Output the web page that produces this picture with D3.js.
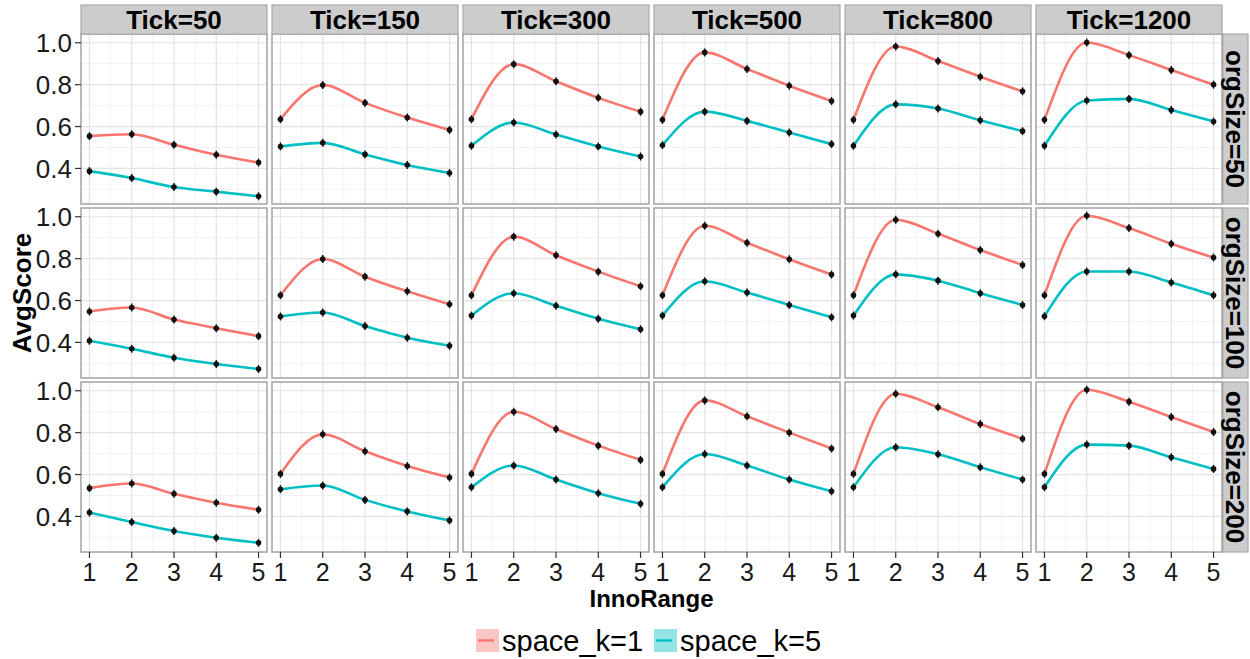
<!DOCTYPE html>
<html>
<head>
<meta charset="utf-8">
<script src="https://cdn.jsdelivr.net/npm/d3@7"></script>
<style>
  html, body { margin: 0; padding: 0; background: #ffffff; }
  svg { display: block; font-family: "Liberation Sans", Arial, sans-serif; }
</style>
</head>
<body>
<svg id="chart" width="1250" height="659"></svg>
<script>
// Facet definitions
const ticks = ["50", "150", "300", "500", "800", "1200"];
const orgSizes = ["50", "100", "200"];
const innoRange = [1, 2, 3, 4, 5];
const seriesNames = ["space_k=1", "space_k=5"];
const seriesColors = ["#F8766D", "#00BFC4"];
const yTickValues = [0.4, 0.6, 0.8, 1.0];

// AvgScore, space_k=1, one row per orgSize, one list per Tick
const k1_org50 = [
  [0.554, 0.563, 0.513, 0.465, 0.428],
  [0.635, 0.798, 0.713, 0.643, 0.584],
  [0.635, 0.898, 0.816, 0.737, 0.671],
  [0.632, 0.954, 0.875, 0.795, 0.722],
  [0.632, 0.982, 0.913, 0.838, 0.768],
  [0.632, 1.001, 0.941, 0.870, 0.800]
];
const k1_org100 = [
  [0.548, 0.567, 0.509, 0.468, 0.430],
  [0.625, 0.798, 0.714, 0.644, 0.582],
  [0.625, 0.905, 0.816, 0.738, 0.668],
  [0.625, 0.957, 0.876, 0.797, 0.724],
  [0.625, 0.986, 0.919, 0.841, 0.770],
  [0.625, 1.005, 0.946, 0.871, 0.805]
];
const k1_org200 = [
  [0.535, 0.557, 0.508, 0.465, 0.432],
  [0.603, 0.792, 0.711, 0.641, 0.586],
  [0.603, 0.900, 0.817, 0.738, 0.670],
  [0.603, 0.954, 0.878, 0.800, 0.724],
  [0.603, 0.986, 0.921, 0.841, 0.771],
  [0.603, 1.005, 0.948, 0.875, 0.803]
];

// AvgScore, space_k=5
const k5_org50 = [
  [0.387, 0.354, 0.311, 0.289, 0.267],
  [0.505, 0.522, 0.467, 0.416, 0.378],
  [0.508, 0.619, 0.562, 0.505, 0.457],
  [0.511, 0.671, 0.627, 0.571, 0.516],
  [0.508, 0.706, 0.686, 0.630, 0.578],
  [0.508, 0.724, 0.732, 0.679, 0.624]
];
const k5_org100 = [
  [0.408, 0.370, 0.327, 0.297, 0.273],
  [0.524, 0.543, 0.478, 0.422, 0.384],
  [0.528, 0.635, 0.575, 0.513, 0.463],
  [0.528, 0.692, 0.638, 0.579, 0.520],
  [0.528, 0.725, 0.695, 0.635, 0.579],
  [0.525, 0.739, 0.739, 0.686, 0.625]
];
const k5_org200 = [
  [0.419, 0.373, 0.330, 0.298, 0.274],
  [0.530, 0.548, 0.479, 0.424, 0.381],
  [0.539, 0.643, 0.576, 0.511, 0.460],
  [0.539, 0.698, 0.643, 0.576, 0.520],
  [0.539, 0.730, 0.697, 0.635, 0.576],
  [0.539, 0.743, 0.738, 0.682, 0.627]
];

const seriesByRow = [
  [k1_org50, k5_org50],
  [k1_org100, k5_org100],
  [k1_org200, k5_org200]
];

// Layout
const svg = d3.select("#chart");
const panelX0 = 81, panelW = 186, colStep = 191;
const panelY0 = 34, panelH = 170, rowStep = 174;
const stripH = 29, stripW = 25;
const textColor = "#1a1a1a";
const borderColor = "#a8a8a8";

// Shared scales (5% expansion around the data)
const allVals = seriesByRow.flat(3);
const [vMin, vMax] = d3.extent(allVals);
const pad = (vMax - vMin) * 0.05;
const y = d3.scaleLinear().domain([vMin - pad, vMax + pad]).range([panelH, 0]);
const x = d3.scaleLinear().domain([1 - 0.2, 5 + 0.2]).range([0, panelW]);

const line = d3.line()
  .x((d, i) => x(innoRange[i]))
  .y(d => y(d))
  .curve(d3.curveMonotoneX);

const minorY = d3.range(0.3, 1.01, 0.2);
const minorX = [1.5, 2.5, 3.5, 4.5];

orgSizes.forEach((org, r) => {
  ticks.forEach((tk, c) => {
    const g = svg.append("g")
      .attr("transform", `translate(${panelX0 + c * colStep},${panelY0 + r * rowStep})`);

    g.append("rect").attr("width", panelW).attr("height", panelH).attr("fill", "#ffffff");

    // minor grid
    g.selectAll(".minY").data(minorY).enter().append("line")
      .attr("x1", 0).attr("x2", panelW)
      .attr("y1", d => y(d)).attr("y2", d => y(d))
      .attr("stroke", "#f3f3f3").attr("stroke-width", 1);
    g.selectAll(".minX").data(minorX).enter().append("line")
      .attr("y1", 0).attr("y2", panelH)
      .attr("x1", d => x(d)).attr("x2", d => x(d))
      .attr("stroke", "#f3f3f3").attr("stroke-width", 1);
    // major grid
    g.selectAll(".majY").data(yTickValues).enter().append("line")
      .attr("x1", 0).attr("x2", panelW)
      .attr("y1", d => y(d)).attr("y2", d => y(d))
      .attr("stroke", "#e3e3e3").attr("stroke-width", 1.2);
    g.selectAll(".majX").data(innoRange).enter().append("line")
      .attr("y1", 0).attr("y2", panelH)
      .attr("x1", d => x(d)).attr("x2", d => x(d))
      .attr("stroke", "#e3e3e3").attr("stroke-width", 1.2);

    // series lines and points
    seriesByRow[r].forEach((series, s) => {
      const vals = series[c];
      g.append("path").datum(vals)
        .attr("d", line)
        .attr("fill", "none")
        .attr("stroke", seriesColors[s])
        .attr("stroke-width", 2.6)
        .attr("stroke-linejoin", "round");
    });
    seriesByRow[r].forEach((series) => {
      const vals = series[c];
      const pts = g.selectAll(null).data(vals).enter().append("g")
        .attr("transform", (d, i) => `translate(${x(innoRange[i])},${y(d)})`);
      pts.append("line").attr("y1", -4).attr("y2", 4)
        .attr("stroke", "#111").attr("stroke-width", 1.4);
      pts.append("circle").attr("r", 2.8).attr("fill", "#111");
    });

    g.append("rect").attr("width", panelW).attr("height", panelH)
      .attr("fill", "none").attr("stroke", borderColor).attr("stroke-width", 1.6);

    // top strips
    if (r === 0) {
      const sg = svg.append("g")
        .attr("transform", `translate(${panelX0 + c * colStep},${panelY0 - stripH})`);
      sg.append("rect").attr("width", panelW).attr("height", stripH)
        .attr("fill", "#cccccc").attr("stroke", borderColor).attr("stroke-width", 1.2);
      sg.append("text").attr("x", panelW / 2).attr("y", stripH / 2 + 9.5)
        .attr("text-anchor", "middle").attr("font-size", 26).attr("font-weight", "bold")
        .attr("fill", "#000").text("Tick=" + tk);
    }

    // y axis on first column
    if (c === 0) {
      const ya = g.append("g");
      ya.selectAll("line").data(yTickValues).enter().append("line")
        .attr("x1", -6).attr("x2", 0)
        .attr("y1", d => y(d)).attr("y2", d => y(d))
        .attr("stroke", "#333").attr("stroke-width", 1.2);
      ya.selectAll("text").data(yTickValues).enter().append("text")
        .attr("x", -9).attr("y", d => y(d) + 9.5)
        .attr("text-anchor", "end").attr("font-size", 26)
        .attr("fill", textColor).text(d => d3.format(".1f")(d));
    }

    // x axis on last row
    if (r === orgSizes.length - 1) {
      const xa = g.append("g").attr("transform", `translate(0,${panelH})`);
      xa.selectAll("line").data(innoRange).enter().append("line")
        .attr("x1", d => x(d)).attr("x2", d => x(d))
        .attr("y1", 0).attr("y2", 6)
        .attr("stroke", "#333").attr("stroke-width", 1.2);
      xa.selectAll("text").data(innoRange).enter().append("text")
        .attr("x", d => x(d)).attr("y", 29)
        .attr("text-anchor", "middle").attr("font-size", 25)
        .attr("fill", textColor).text(d => d);
    }
  });

  // right strips
  const rx = panelX0 + (ticks.length - 1) * colStep + panelW + 1;
  const ry = panelY0 + r * rowStep;
  const rg = svg.append("g").attr("transform", `translate(${rx},${ry})`);
  rg.append("rect").attr("width", stripW).attr("height", panelH)
    .attr("fill", "#cccccc").attr("stroke", borderColor).attr("stroke-width", 1.2);
  rg.append("text")
    .attr("transform", `translate(${stripW / 2 - 9.5},${panelH / 2}) rotate(90)`)
    .attr("text-anchor", "middle").attr("font-size", 26).attr("font-weight", "bold")
    .attr("fill", "#000").text("orgSize=" + org);
});

// axis titles
const plotCenterX = panelX0 + ((ticks.length - 1) * colStep + panelW) / 2;
svg.append("text").attr("x", plotCenterX).attr("y", 607)
  .attr("text-anchor", "middle").attr("font-size", 24).attr("font-weight", "bold")
  .attr("fill", "#000").text("InnoRange");
const plotCenterY = panelY0 + ((orgSizes.length - 1) * rowStep + panelH) / 2;
svg.append("text")
  .attr("transform", `translate(31,${plotCenterY}) rotate(-90)`)
  .attr("text-anchor", "middle").attr("font-size", 26).attr("font-weight", "bold")
  .attr("fill", "#000").text("AvgScore");

// legend
const legend = svg.append("g").attr("transform", "translate(476,629)");
const keyW = 23;
const legendX = [0, 178];
seriesNames.forEach((name, i) => {
  const lg = legend.append("g").attr("transform", `translate(${legendX[i]},0)`);
  lg.append("rect").attr("width", keyW).attr("height", keyW)
    .attr("fill", seriesColors[i]).attr("fill-opacity", 0.42);
  lg.append("line").attr("x1", 2).attr("x2", 18)
    .attr("y1", keyW / 2).attr("y2", keyW / 2)
    .attr("stroke", seriesColors[i]).attr("stroke-width", 2.4);
  lg.append("text").attr("x", keyW + 3).attr("y", keyW - 1)
    .attr("font-size", 29).attr("fill", "#000").text(name);
});
</script>
</body>
</html>
